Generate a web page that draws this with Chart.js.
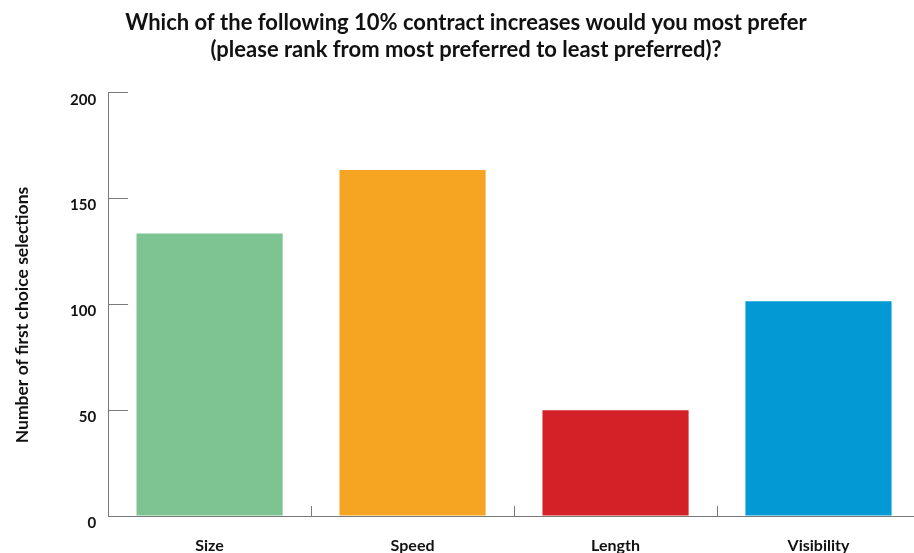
<!DOCTYPE html>
<html>
  <head>
    <title>First choice contract increases</title>
    <script src="https://cdn.jsdelivr.net/npm/chart.js@4/dist/chart.umd.min.js"></script>
    <style>
      html, body { margin: 0; padding: 0; background: #ffffff; overflow: hidden; }
      /* slightly larger than the window: the original is cropped at right and bottom */
      .chartBox { position: relative; width: 920px; height: 557px; }
    </style>
  </head>
  <body>
    <div class="chartBox">
      <canvas id="prefBar"></canvas>
    </div>
    <script>
      // data
      const categories = ['Size', 'Speed', 'Length', 'Visibility'];
      const firstChoice = [133.5, 163.5, 50, 101.5];
      const barColors = ['#7dc492', '#f5a521', '#d42027', '#0399d5'];
      const yTicks = [0, 50, 100, 150, 200];

      const titleLines = [
        'Which of the following 10% contract increases would you most prefer',
        '(please rank from most preferred to least preferred)?'
      ];
      const yTitle = 'Number of first choice selections';

      const axisGrey = '#7a7a7a';

      const prefBar = new Chart(document.getElementById('prefBar'), {
        type: 'bar',
        data: {
          labels: categories,
          datasets: [{
            label: 'First choice',
            data: firstChoice,
            backgroundColor: barColors,
            borderWidth: 0,
            categoryPercentage: 1,
            barPercentage: 0.72
          }]
        },
        options: {
          responsive: true,
          maintainAspectRatio: false,
          animation: false,
          // the tick padding is counted twice when the axes are sized, so pull the bottom back
          layout: { padding: { left: 12, right: 0, top: 8, bottom: -40 } },
          plugins: {
            legend: { display: false },
            tooltip: { enabled: false },
            title: {
              display: true,
              text: titleLines,
              color: '#111111',
              font: { family: 'Lato', size: 22, weight: 'bold', lineHeight: 1.2 },
              padding: { top: 2, bottom: 30 }
            }
          },
          scales: {
            x: {
              grid: {
                offset: true,
                drawOnChartArea: false,
                drawTicks: true,
                tickLength: -10,
                color: axisGrey
              },
              border: { display: true, color: axisGrey, width: 1 },
              ticks: {
                color: '#111111',
                padding: 30,
                font: { family: 'Lato', size: 16, weight: 'bold' }
              }
            },
            y: {
              min: 0,
              max: 200,
              afterBuildTicks: (scale) => { scale.ticks = yTicks.map(v => ({ value: v })); },
              grid: {
                drawOnChartArea: false,
                drawTicks: true,
                tickLength: -20,
                color: axisGrey
              },
              border: { display: true, color: axisGrey, width: 1 },
              ticks: {
                color: '#111111',
                padding: 32,
                labelOffset: 7,
                font: { family: 'Lato', size: 15, weight: 'bold' }
              },
              title: {
                display: true,
                // trailing spaces nudge the rotated title a little lower, like the original
                text: yTitle + '\u00a0'.repeat(5),
                color: '#111111',
                font: { family: 'Lato', size: 17.5, weight: 'bold' },
                padding: { top: 0, bottom: 5 }
              }
            }
          }
        }
      });
    </script>
  </body>
</html>
